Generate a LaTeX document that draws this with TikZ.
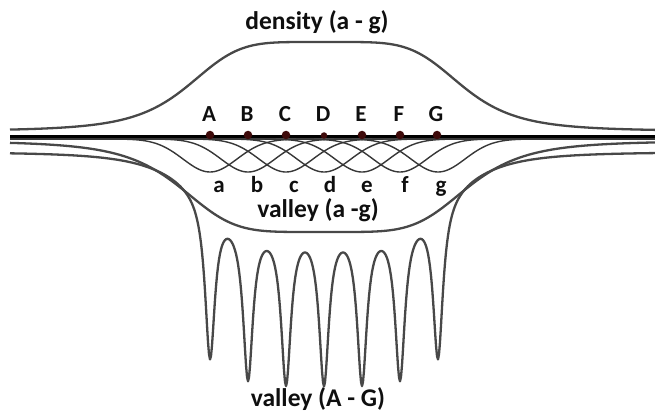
\documentclass[tikz,border=0pt]{standalone}
\usepackage{fontspec}
\setmainfont{Carlito}
\definecolor{curvegray}{RGB}{72,72,72}
\definecolor{thingray}{RGB}{55,55,55}
\definecolor{dotred}{RGB}{62,10,10}
\definecolor{txt}{RGB}{15,15,15}
\begin{document}
\begin{tikzpicture}[x=1pt,y=-1pt,
  curve/.style={line width=2.3pt,draw=curvegray,line join=round},
  thincurve/.style={line width=1.4pt,draw=thingray},
  baseline/.style={line width=2.4pt,draw=black},
  lbl/.style={font=\fontsize{23}{27}\selectfont\bfseries,text=txt,anchor=base,inner sep=0pt},
  ttl/.style={font=\fontsize{25.5}{30}\selectfont\bfseries,text=txt,anchor=base,inner sep=0pt},
  dotnode/.style={circle,fill=dotred,inner sep=0pt,minimum size=8.5pt},
  declare function={
    lor(\u)=1/(1+(\u/6)*(\u/6));
    spk(\x)=lor(\x-210)+lor(\x-248)+lor(\x-286)+lor(\x-324)+lor(\x-362)+lor(\x-400)+lor(\x-438);
    wellf(\x)=67/(1+((abs(\x-324)+0.001)/131)^5);
    valA(\x)=152+wellf(\x)+157*spk(\x);
    vala(\x)=141+91/(1+((abs(\x-324)+0.001)/145)^5);
    dens(\x)=131-89/(1+((abs(\x-325)+0.001)/138)^5);
    gs(\u)=33*exp(max(-9,-0.5*(\u/27)*(\u/27)));
  }]
\useasboundingbox (0,0) rectangle (655,414);

% density curve
\draw[curve] plot[domain=10:655,samples=330,smooth] (\x,{dens(\x)});
% valley (a-g) curve
\draw[curve] plot[domain=10:655,samples=330,smooth] (\x,{vala(\x)});
% valley (A-G) curve
\draw[curve] plot[domain=10:655,samples=646] (\x,{valA(\x)});
% small valleys a-g
\foreach \c in {210,248,286,324,362,400,438}{
  \draw[thincurve] plot[domain=10:655,samples=330,smooth] (\x,{139+gs(\x-\c)});
}
% baseline
\coordinate (bl) at (10,136.5);
\coordinate (br) at (655,136.5);
\draw[baseline] (bl) -- (br);

% dots
\node[dotnode] (dA) at (210,135) {};
\node[dotnode] (dB) at (248,135) {};
\node[dotnode] (dC) at (286,135) {};
\node[dotnode,minimum size=6.5pt] (dD) at (324,135.5) {};
\node[dotnode] (dE) at (362,135) {};
\node[dotnode] (dF) at (400,135) {};
\node[dotnode] (dG) at (437,135) {};

% labels A-G
\node[lbl] (lA) at (209,122) {A};
\node[lbl] (lB) at (247,122) {B};
\node[lbl] (lC) at (285,122) {C};
\node[lbl] (lD) at (323,122) {D};
\node[lbl] (lE) at (361,122) {E};
\node[lbl] (lF) at (399,122) {F};
\node[lbl] (lG) at (436,122) {G};

% labels a-g
\node[lbl] (la) at (219,192) {a};
\node[lbl] (lb) at (257,192) {b};
\node[lbl] (lc) at (294,192) {c};
\node[lbl] (ld) at (330,192) {d};
\node[lbl] (le) at (367,192) {e};
\node[lbl] (lf) at (405,192) {f};
\node[lbl] (lg) at (441,192) {g};

% titles
\node[ttl] (tden) at (317,30) {density (a - g)};
\node[ttl] (tva) at (318,217) {valley (a -g)};
\node[ttl] (tvA) at (318,406) {valley (A - G)};
\end{tikzpicture}
\end{document}
